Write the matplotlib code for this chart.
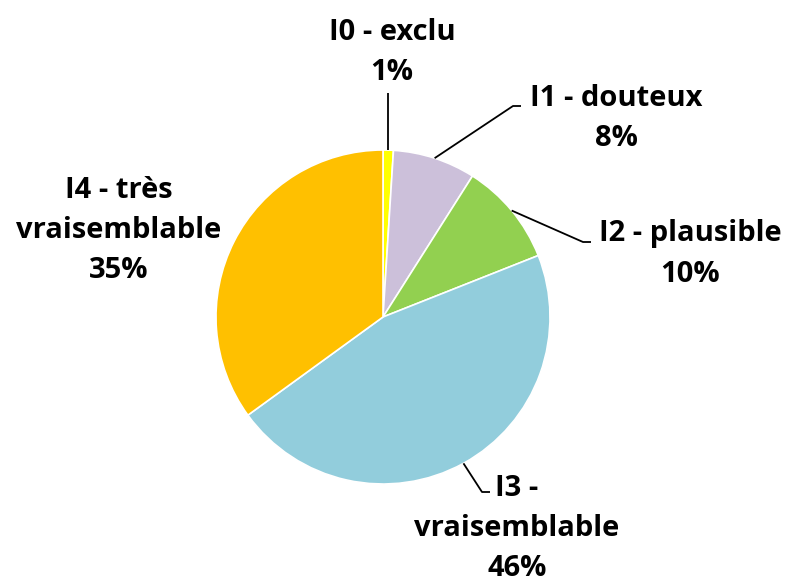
import matplotlib
matplotlib.use('Agg')
import matplotlib.pyplot as plt
import numpy as np

categories = ['I0 - exclu', 'I1 - douteux', 'I2 - plausible',
              'I3 -\nvraisemblable', 'I4 - très\nvraisemblable']
values = [1, 8, 10, 46, 35]
colors = ['#FFFF00', '#CCC0DA', '#92D050', '#92CDDC', '#FFC000']

W, H = 793, 584
fig = plt.figure(figsize=(7.93, 5.84), dpi=100)
ax = fig.add_axes([0, 0, 1, 1])

cx, cy, r = 383, H - 317, 167
wedges, _ = ax.pie(values, colors=colors, startangle=90, counterclock=False,
                   center=(cx, cy), radius=r,
                   wedgeprops=dict(edgecolor='white', linewidth=1.2))
ax.set_xlim(0, W)
ax.set_ylim(0, H)
ax.set_aspect('equal')
ax.axis('off')

# label block centres (pixel coords, y from top) and leader elbows
label_pos = [(392, 53), (616, 119), (690, 254), (517, 529), (119, 230)]
elbows = [[(None, 93)], [(513, 106), (521, 106)], [(583, 242), (591, 242)],
          [(482, 492), (490, 492)], []]

for w, cat, v, (lx, ly), elb in zip(wedges, categories, values, label_pos, elbows):
    ax.text(lx, H - ly, f"{cat}\n{v}%", ha='center', va='center',
            multialignment='center', fontsize=21, fontweight='bold',
            family='Open Sans', linespacing=1.5, color='black')
    if elb:
        th = np.deg2rad((w.theta1 + w.theta2) / 2)
        px, py = cx + r * np.cos(th), cy + r * np.sin(th)
        xs, ys = [px], [py]
        for ex, ey in elb:
            xs.append(px if ex is None else ex)
            ys.append(H - ey)
        ax.plot(xs, ys, color='black', lw=1.3, solid_capstyle='butt')

fig.savefig('out.png', dpi=100)
